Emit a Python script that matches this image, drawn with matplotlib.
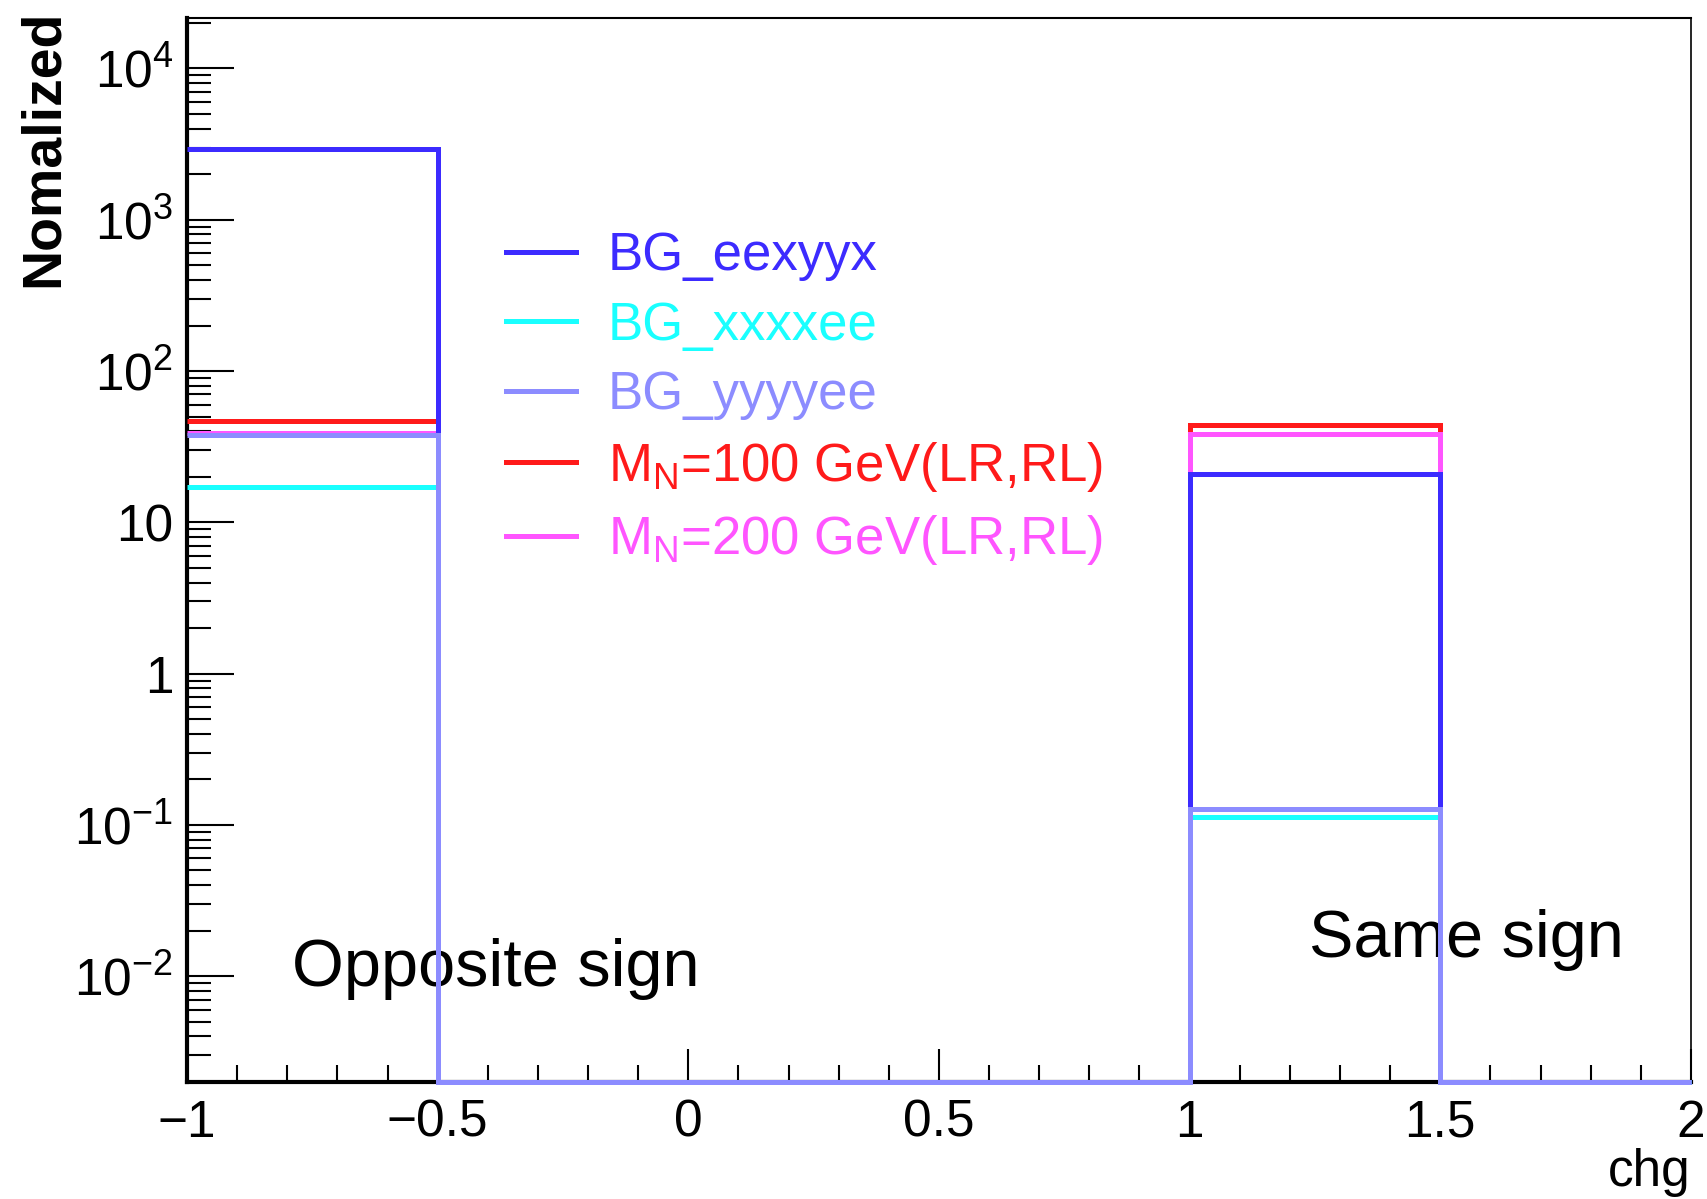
import numpy as np
import matplotlib
matplotlib.use('Agg')
import matplotlib.pyplot as plt
from matplotlib.lines import Line2D
from matplotlib.ticker import LogLocator, NullFormatter, MultipleLocator

plt.rcParams['font.family'] = ['Liberation Sans', 'DejaVu Sans']
plt.rcParams['mathtext.fontset'] = 'custom'
plt.rcParams['mathtext.rm'] = 'Liberation Sans'
plt.rcParams['mathtext.it'] = 'Liberation Sans:italic'
plt.rcParams['mathtext.bf'] = 'Liberation Sans:bold'

# bin edges of the charge histogram
edges = [-1.0, -0.5, 0.0, 0.5, 1.0, 1.5, 2.0]

# normalized entries per bin
bg_eexyyx = [2950, 0, 0, 0, 21.0, 0]
bg_xxxxee = [17.2, 0, 0, 0, 0.112, 0]
bg_yyyyee = [37.5, 0, 0, 0, 0.128, 0]
mn100 = [46.5, 0, 0, 0, 44.0, 0]
mn200 = [39.0, 0, 0, 0, 38.6, 0]

labels = ['BG_eexyyx', 'BG_xxxxee', 'BG_yyyyee',
          r'M$_{\mathrm{N}}$=100 GeV(LR,RL)', r'M$_{\mathrm{N}}$=200 GeV(LR,RL)']
colors = ['#3c2bff', '#1affff', '#8c8cff', '#ff1a1a', '#ff55ff']

ytick_vals = [1e-2, 1e-1, 1, 10, 1e2, 1e3, 1e4]
ytick_labels = [r'$10^{-2}$', r'$10^{-1}$', '1', '10', r'$10^{2}$', r'$10^{3}$', r'$10^{4}$']
xtick_vals = [-1, -0.5, 0, 0.5, 1, 1.5, 2]
xtick_labels = ['\u22121', '\u22120.5', '0', '0.5', '1', '1.5', '2']

ymin, ymax = 2.0e-3, 2.14e4

fig = plt.figure(figsize=(17.08, 11.99), dpi=100)
ax = fig.add_axes([0.1095, 0.0976, 0.8805, 0.887])
ax.set_yscale('log')

series = [bg_eexyyx, bg_xxxxee, bg_yyyyee, mn100, mn200]
# drawing order: signals first, light background last (on top)
draw_order = [3, 4, 0, 1, 2]
for k, i in enumerate(draw_order):
    vals = np.clip(np.array(series[i], dtype=float), ymin, None)
    ax.stairs(vals, edges, baseline=None, color=colors[i], lw=3.6,
              clip_on=False, zorder=3 + k)

ax.set_xlim(-1, 2)
ax.set_ylim(ymin, ymax)

ax.set_xticks(xtick_vals)
ax.set_xticklabels(xtick_labels)
ax.xaxis.set_minor_locator(MultipleLocator(0.1))
ax.set_yticks(ytick_vals)
ax.set_yticklabels(ytick_labels)
ax.yaxis.set_minor_locator(LogLocator(base=10, subs=range(2, 10), numticks=20))
ax.yaxis.set_minor_formatter(NullFormatter())

ax.tick_params(axis='both', which='both', direction='in', top=False, right=False,
               labelsize=37, width=1.5, color='black')
ax.tick_params(axis='x', which='major', length=24, pad=12)
ax.tick_params(axis='x', which='minor', length=12)
ax.tick_params(axis='y', which='major', length=34, pad=10)
ax.tick_params(axis='y', which='minor', length=17)

ax.spines['left'].set_linewidth(3)
ax.spines['bottom'].set_linewidth(3)
ax.spines['top'].set_linewidth(1.5)
ax.spines['right'].set_linewidth(1.2)

ax.set_ylabel('Nomalized', fontsize=40, fontweight='bold')
ax.yaxis.set_label_coords(-0.0955, 1.008)
ax.yaxis.label.set_rotation_mode('anchor')
ax.yaxis.label.set_ha('right')
ax.yaxis.label.set_va('center')

ax.set_xlabel('chg', fontsize=37, loc='right')
ax.xaxis.set_label_coords(1.0, -0.062)

handles = [Line2D([], [], color=c, lw=3.6) for c in colors]
leg = ax.legend(handles, labels, loc='upper left', bbox_to_anchor=(0.198, 0.82),
                frameon=False, fontsize=38, handlelength=1.33, handletextpad=0.6,
                labelspacing=0.37, borderaxespad=0)
for txt, c in zip(leg.get_texts(), colors):
    txt.set_color(c)

ax.text(-0.79, 0.0086, 'Opposite sign', fontsize=48, va='baseline')
ax.text(1.239, 0.0135, 'Same sign', fontsize=48, va='baseline')

fig.savefig('out.png', dpi=100)
